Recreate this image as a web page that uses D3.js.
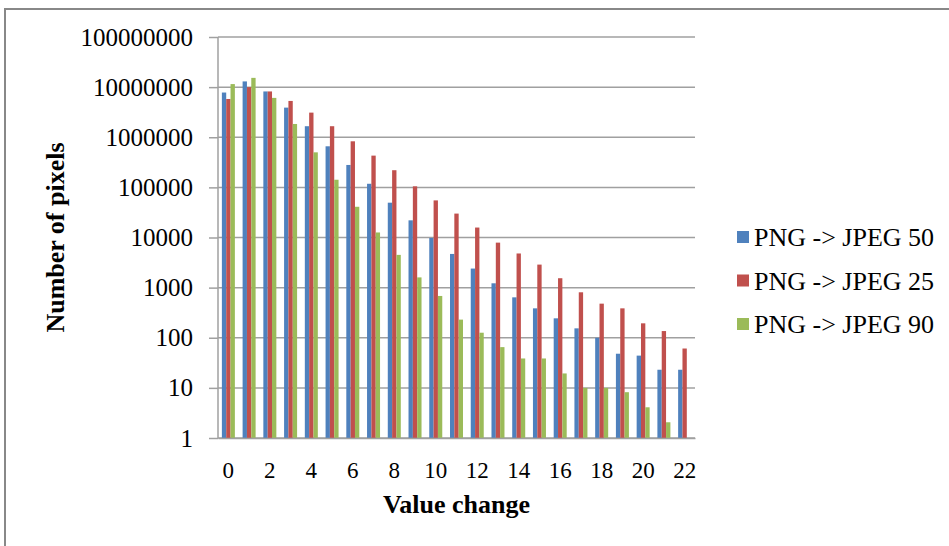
<!DOCTYPE html>
<html>
<head>
<meta charset="utf-8">
<script src="https://cdn.jsdelivr.net/npm/d3@7"></script>
<style>
  body { margin: 0; background: #fff; }
  text { font-family: "Liberation Serif", "Times New Roman", serif; fill: #000; }
</style>
</head>
<body>
<div id="chart-area"></div>
<script>
// categories and series
let categories = d3.range(0, 23);
let seriesNames = ["PNG -> JPEG 50", "PNG -> JPEG 25", "PNG -> JPEG 90"];
let jpeg50 = [7800000, 13000000, 8200000, 3900000, 1660000, 660000, 280000, 118000, 49500, 22000, 9800, 4700, 2400, 1220, 640, 386, 244, 154, 100, 48, 44, 23, 23];
let jpeg25 = [5800000, 10000000, 8200000, 5300000, 3100000, 1660000, 830000, 430000, 220000, 105000, 55000, 30000, 15800, 7900, 4800, 2880, 1540, 807, 479, 386, 194, 136, 61];
let jpeg90 = [11500000, 15300000, 6100000, 1840000, 500000, 142000, 41000, 12600, 4500, 1600, 682, 230, 126, 65, 38.6, 38.6, 19.4, 10, 10, 8.2, 4.1, 2.06, 1];
let yTicks = [1, 10, 100, 1000, 10000, 100000, 1000000, 10000000, 100000000];
let colors = ["#4F81BD", "#C0504D", "#9BBB59"];

let data = categories.map((c, i) => ({cat: c, values: [jpeg50[i], jpeg25[i], jpeg90[i]]}));

let W = 949, H = 546;
let margin = {top: 37, left: 218, right: 254, bottom: 108};
let width = W - margin.left - margin.right,
	height = H - margin.top - margin.bottom;

let svg = d3.select("#chart-area").append("svg")
	.attr("width", W)
	.attr("height", H);

// outer frame (cropped on right and bottom)
svg.append("rect")
	.attr("x", 5).attr("y", 9)
	.attr("width", W + 10).attr("height", H + 10)
	.attr("fill", "none")
	.attr("stroke", "#888")
	.attr("stroke-width", 2);

let g = svg.append("g")
	.attr("transform", "translate(" + margin.left + "," + margin.top + ")");

let x = d3.scaleBand()
	.domain(categories)
	.range([0, width]);

let inner = d3.scaleBand()
	.domain([0, 1, 2])
	.range([(x.bandwidth() - 13) / 2, (x.bandwidth() + 13) / 2]);

let y = d3.scaleLog()
	.domain([1, 100000000])
	.range([height, 0]);

// gridlines + y axis
let yAxis = d3.axisLeft(y)
	.tickValues(yTicks)
	.tickFormat(d3.format("d"))
	.tickSize(9)
	.tickPadding(16);

let yg = g.append("g").attr("class", "axis y-axis").call(yAxis);
yg.select(".domain").remove();
yg.selectAll(".tick line").attr("stroke", "#a0a0a0").attr("stroke-width", 1.5);
yg.selectAll(".tick text").style("font-size", "25px");

g.append("g")
	.selectAll("line")
	.data(yTicks)
	.enter().append("line")
	.attr("x1", 0).attr("x2", width)
	.attr("y1", d => y(d)).attr("y2", d => y(d))
	.attr("stroke", "#a0a0a0")
	.attr("stroke-width", 1.5);

// bars
let groups = g.selectAll(".grp").data(data)
	.enter().append("g")
	.attr("class", "grp")
	.attr("transform", d => "translate(" + x(d.cat) + ",0)");

groups.selectAll("rect")
	.data(d => d.values.map((v, k) => ({k: k, v: v})))
	.enter().append("rect")
	.attr("x", d => inner(d.k))
	.attr("width", inner.bandwidth())
	.attr("y", d => y(d.v))
	.attr("height", d => height - y(d.v))
	.attr("fill", d => colors[d.k]);

// left axis line
g.append("line")
	.attr("x1", 0).attr("x2", 0)
	.attr("y1", 0).attr("y2", height)
	.attr("stroke", "#a0a0a0").attr("stroke-width", 1.5);

// x axis
let xAxis = d3.axisBottom(x)
	.tickValues(categories.filter(c => c % 2 === 0))
	.tickSize(0)
	.tickPadding(24);

let xg = g.append("g")
	.attr("class", "axis x-axis")
	.attr("transform", "translate(0," + height + ")")
	.call(xAxis);
xg.select(".domain").attr("stroke", "#a0a0a0").attr("stroke-width", 1.5);
xg.selectAll(".tick text").style("font-size", "23px");

// axis titles
svg.append("text")
	.attr("x", margin.left + width / 2)
	.attr("y", 513)
	.attr("text-anchor", "middle")
	.style("font-size", "26px")
	.style("font-weight", "bold")
	.text("Value change");

svg.append("text")
	.attr("transform", "translate(64," + (margin.top + height / 2) + ") rotate(-90)")
	.attr("text-anchor", "middle")
	.style("font-size", "26px")
	.style("font-weight", "bold")
	.text("Number of pixels");

// legend
let legend = svg.append("g")
	.attr("transform", "translate(737,246)")
	.selectAll("g")
	.data(seriesNames)
	.enter().append("g")
	.attr("transform", (d, i) => "translate(0," + i * 43.5 + ")");

legend.append("rect")
	.attr("x", 0).attr("y", -15)
	.attr("width", 12).attr("height", 12)
	.attr("fill", (d, i) => colors[i]);

legend.append("text")
	.attr("x", 17).attr("y", 0)
	.style("font-size", "26px")
	.text(d => d);
</script>
</body>
</html>
